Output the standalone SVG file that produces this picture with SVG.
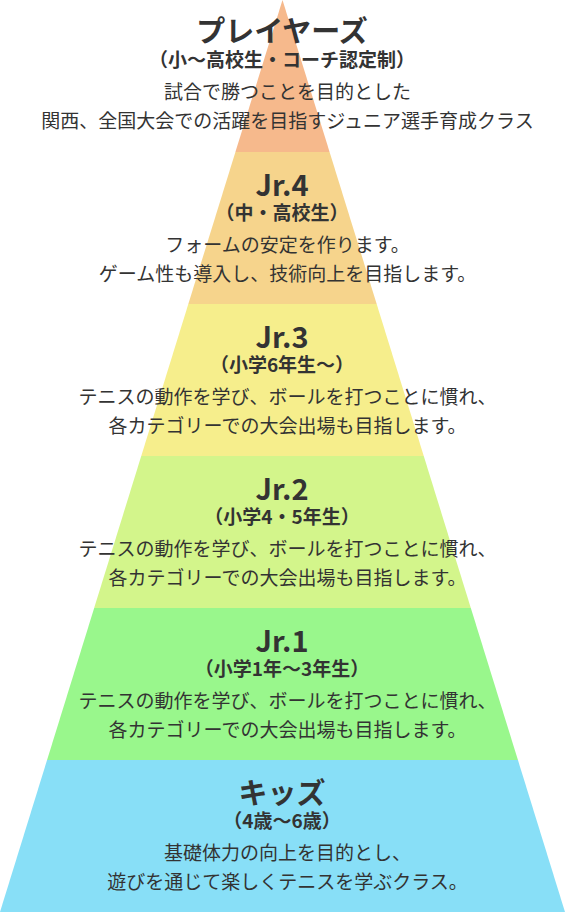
<svg xmlns="http://www.w3.org/2000/svg" width="565" height="912" viewBox="0 0 565 912">
<style>
text{font-family:"Noto Sans CJK JP","Noto Sans",sans-serif;fill:#333;text-anchor:middle}
.t{font-size:29px;font-weight:700}
.s{font-size:19px;font-weight:700}
.b{font-size:19px;font-weight:400}
</style>
<rect width="565" height="912" fill="#fff"/>
<g id="players">
<polygon points="282.5,0 235.42,152 329.58,152" fill="#F6B98C"/>
<text class="t" x="282" y="42">プレイヤーズ</text>
<text class="s" x="282" y="66.5">（小〜高校生・コーチ認定制）</text>
<text class="b" x="287.5" y="99">試合で勝つことを目的とした</text>
<text class="b" x="287.5" y="128">関西、全国大会での活躍を目指すジュニア選手育成クラス</text>
</g>
<g id="jr4">
<polygon points="235.42,152 329.58,152 376.67,304 188.33,304" fill="#F6D48C"/>
<text class="t" x="282" y="195.5">Jr.4</text>
<text class="s" x="282" y="220">（中・高校生）</text>
<text class="b" x="287.5" y="252">フォームの安定を作ります。</text>
<text class="b" x="287.5" y="281">ゲーム性も導入し、技術向上を目指します。</text>
</g>
<g id="jr3">
<polygon points="188.33,304 376.67,304 423.75,456 141.25,456" fill="#F6EE8C"/>
<text class="t" x="282" y="347.5">Jr.3</text>
<text class="s" x="282" y="372">（小学6年生〜）</text>
<text class="b" x="287.5" y="404">テニスの動作を学び、ボールを打つことに慣れ、</text>
<text class="b" x="287.5" y="433">各カテゴリーでの大会出場も目指します。</text>
</g>
<g id="jr2">
<polygon points="141.25,456 423.75,456 470.83,608 94.17,608" fill="#D3F58B"/>
<text class="t" x="282" y="499.5">Jr.2</text>
<text class="s" x="282" y="524">（小学4・5年生）</text>
<text class="b" x="287.5" y="556">テニスの動作を学び、ボールを打つことに慣れ、</text>
<text class="b" x="287.5" y="585">各カテゴリーでの大会出場も目指します。</text>
</g>
<g id="jr1">
<polygon points="94.17,608 470.83,608 517.92,760 47.08,760" fill="#99F78C"/>
<text class="t" x="282" y="651.5">Jr.1</text>
<text class="s" x="282" y="676">（小学1年〜3年生）</text>
<text class="b" x="287.5" y="708">テニスの動作を学び、ボールを打つことに慣れ、</text>
<text class="b" x="287.5" y="737">各カテゴリーでの大会出場も目指します。</text>
</g>
<g id="kids">
<polygon points="47.08,760 517.92,760 565,912 0,912" fill="#88DFF7"/>
<text class="t" x="282" y="803.5">キッズ</text>
<text class="s" x="282" y="828">（4歳〜6歳）</text>
<text class="b" x="287.5" y="860">基礎体力の向上を目的とし、</text>
<text class="b" x="287.5" y="889">遊びを通じて楽しくテニスを学ぶクラス。</text>
</g>
<g id="connectors"></g>
</svg>
